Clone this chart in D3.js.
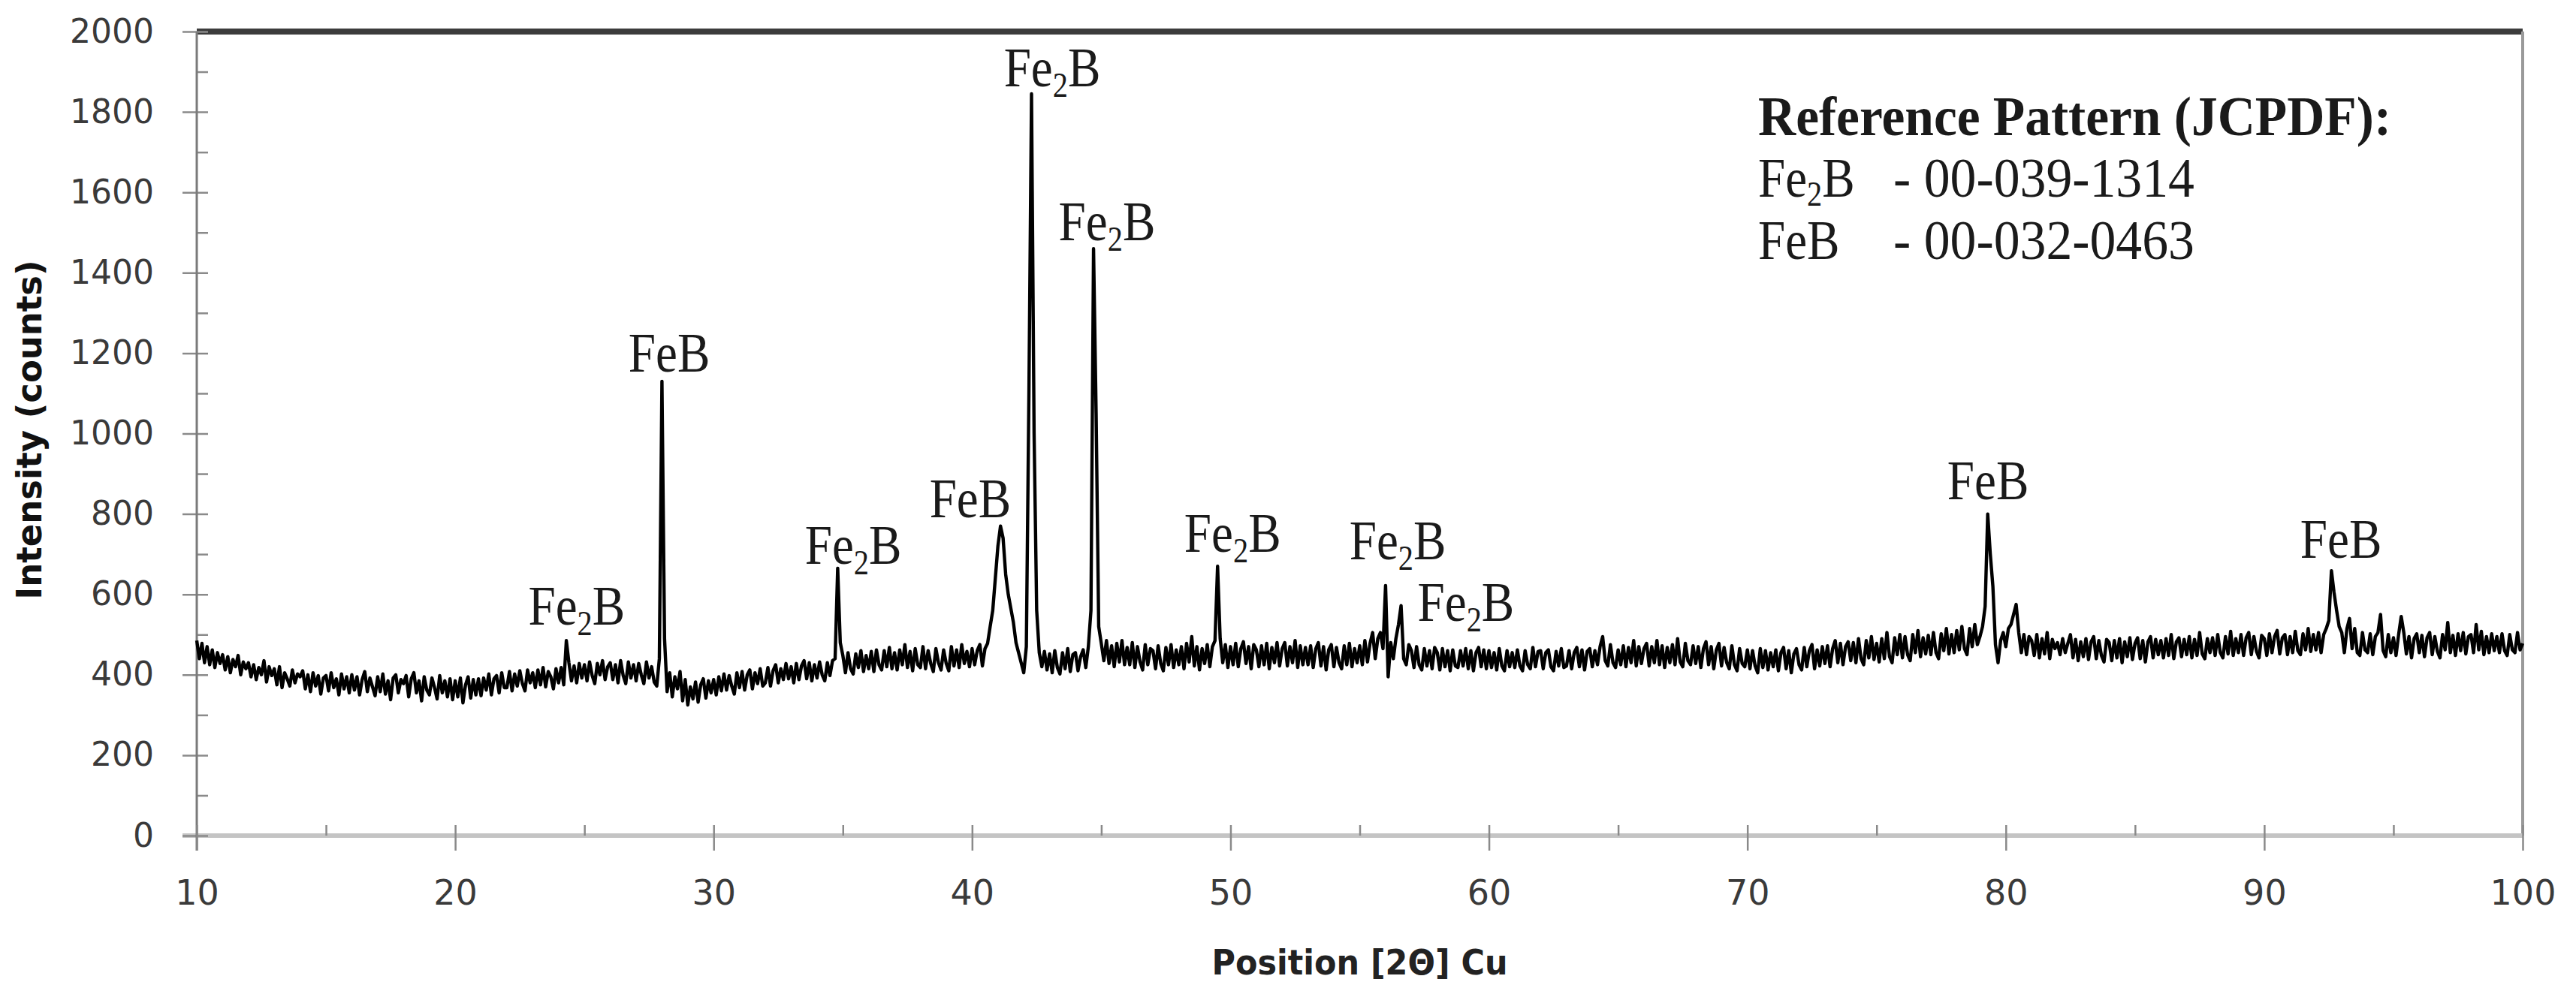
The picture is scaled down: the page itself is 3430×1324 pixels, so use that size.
<!DOCTYPE html>
<html>
<head>
<meta charset="utf-8">
<script src="https://cdn.jsdelivr.net/npm/d3@7"></script>
<style>
  html, body { margin: 0; padding: 0; background: #ffffff; }
  svg { display: block; }
</style>
</head>
<body>
<svg id="chart" width="3430" height="1324"></svg>
<script>
// ---------------- DATA ----------------
// Intensity (counts), one row per degree 2θ, sampled every 0.1° (row r starts at 10 + r degrees)
const intensityRows = [
  [485,440,478,430,470,425,462,418,455,428], // 10
  [450,412,445,405,438,420,448,400,432,415], // 11
  [430,395,425,388,418,400,435,382,420,398], // 12
  [415,375,420,368,405,390,372,412,380,402], // 13
  [395,410,365,400,358,405,372,398,352,392], // 14
  [398,360,405,368,390,350,402,365,395,355], // 15
  [400,362,395,350,388,408,358,392,370,348], // 16
  [395,358,402,352,385,338,392,400,355,388], // 17
  [378,398,345,390,405,355,385,335,395,362], // 18
  [350,392,368,340,398,355,385,345,390,338], // 19
  [385,345,392,330,375,395,342,388,350,390], // 20
  [348,392,362,402,350,390,398,355,405,368], // 21
  [368,408,360,402,372,410,378,360,412,380], // 22
  [405,368,412,375,418,370,408,395,365,415], // 23
  [380,418,375,485,430,385,422,380,428,392], // 24
  [425,385,432,398,378,428,400,435,388,420], // 25
  [430,388,425,380,435,398,378,432,392,425], // 26
  [385,428,400,378,432,392,420,382,372,440], // 27
  [1130,490,358,405,345,395,365,408,335,388], // 28
  [325,370,340,382,332,375,390,342,385,355], // 29
  [388,350,395,360,402,362,398,372,352,405], // 30
  [368,408,362,400,412,365,405,378,415,372], // 31
  [380,418,372,410,425,380,415,388,428,390], // 32
  [420,380,428,388,422,435,390,430,385,425], // 33
  [392,432,400,385,430,398,435,440,665,480], // 34
  [448,405,455,415,402,452,418,460,408,448], // 35
  [415,458,408,462,425,412,460,420,468,415], // 36
  [455,412,462,425,475,418,458,410,465,425], // 37
  [418,470,415,460,428,408,465,430,412,462], // 38
  [428,410,470,422,462,418,475,428,458,420], // 39
  [465,425,460,475,422,465,478,520,560,640], // 40
  [720,770,740,650,600,565,530,480,455,430], // 41
  [405,470,1100,1845,1000,560,455,420,458,412], // 42
  [452,405,460,418,402,455,415,465,408,450], // 43
  [455,410,445,462,418,470,560,1460,1050,520], // 44
  [478,435,485,428,472,420,478,432,485,425], // 45
  [468,425,480,418,470,432,412,475,425,465], // 46
  [460,415,472,428,410,468,425,475,418,462], // 47
  [425,470,415,478,432,495,422,470,412,465], // 48
  [428,475,420,470,485,670,490,430,475,418], // 49
  [470,425,478,420,465,482,428,470,415,475], // 50
  [462,420,472,425,478,415,468,430,480,422], // 51
  [465,480,422,470,430,485,418,472,425,468], // 52
  [425,472,418,465,480,422,470,412,462,475], // 53
  [420,468,430,415,472,425,478,420,465,430], // 54
  [472,425,485,432,478,505,440,490,505,465], // 55
  [622,395,480,440,490,525,572,440,425,475], // 56
  [460,418,470,425,412,465,422,460,415,468], // 57
  [455,412,465,420,460,410,462,422,418,460], // 58
  [422,465,415,460,410,455,468,420,462,415], // 59
  [460,418,455,412,465,422,410,460,420,455], // 60
  [418,462,422,410,460,425,415,468,420,458], // 61
  [460,415,455,462,420,410,458,422,465,418], // 62
  [422,460,415,455,468,420,462,412,458,465], // 63
  [420,460,425,470,495,435,422,475,430,418], // 64
  [462,425,472,420,468,430,485,422,470,428], // 65
  [465,478,422,470,430,485,425,472,418,468], // 66
  [430,475,425,490,432,420,478,435,425,472], // 67
  [428,470,418,465,482,425,470,415,462,478], // 68
  [422,468,430,415,472,425,410,465,428,420], // 69
  [462,415,460,422,405,465,418,460,412,455], // 70
  [420,462,410,455,468,415,460,405,452,465], // 71
  [425,412,468,420,460,475,415,462,422,470], // 72
  [428,472,420,465,485,430,478,425,470,482], // 73
  [435,480,430,490,440,425,485,442,495,438], // 74
  [478,432,490,440,505,445,430,492,450,500], // 75
  [442,495,450,435,500,455,510,445,492,452], // 76
  [498,450,505,455,440,502,460,515,452,500], // 77
  [455,510,462,520,465,450,515,470,525,475], // 78
  [495,520,570,800,700,620,475,430,485,505], // 79
  [470,515,525,550,575,505,455,500,450,495], // 80
  [485,448,500,442,490,452,505,440,488,465], // 81
  [480,450,490,455,478,500,442,488,435,482], // 82
  [445,490,438,482,495,440,485,448,432,488], // 83
  [480,435,485,442,490,430,482,445,492,438], // 84
  [478,492,440,485,432,482,495,442,488,450], // 85
  [485,442,490,448,500,440,482,492,445,488], // 86
  [450,495,442,488,448,505,452,440,490,455], // 87
  [492,448,500,455,442,495,452,508,448,490], // 88
  [455,500,448,492,505,450,495,458,442,498], // 89
  [490,448,502,455,495,510,452,492,500,450], // 90
  [495,455,508,460,450,502,462,515,458,500], // 91
  [462,505,455,500,515,535,659,605,560,520], // 92
  [505,455,515,540,465,515,455,448,505,462], // 93
  [455,502,450,495,505,550,460,445,500,455], // 94
  [492,448,500,545,505,452,495,442,490,502], // 95
  [455,498,445,492,505,450,495,458,442,500], // 96
  [462,530,455,498,448,502,460,505,452,495], // 97
  [500,455,525,462,508,450,495,455,502,460], // 98
  [495,455,502,460,448,500,462,455,505,462], // 99
  [478]                                        // 100
];

const xTickValues = [10,20,30,40,50,60,70,80,90,100];
const xMinorTicks = [15,25,35,45,55,65,75,85,95];
const yTickValues = [0,200,400,600,800,1000,1200,1400,1600,1800,2000];
const yMinorTicks = [100,300,500,700,900,1100,1300,1500,1700,1900];

// Peak annotations: phase, label position (2θ, counts) for the label baseline centre
const peakPhases   = ["Fe2B","FeB","Fe2B","FeB","Fe2B","Fe2B","Fe2B","Fe2B","Fe2B","FeB","FeB"];
const peakLabelX   = [24.7, 28.28, 35.4, 39.93, 43.1, 45.22, 50.08, 56.47, 59.11, 79.31, 92.97];
const peakLabelY   = [525, 1154, 676, 792, 1864, 1481, 706, 687, 534, 837, 691];

const legendTitle = "Reference Pattern  (JCPDF):";
const legendPhases = ["Fe2B", "FeB"];
const legendCodes  = ["- 00-039-1314", "- 00-032-0463"];

const xTitle = "Position [2Θ] Cu";
const yTitle = "Intensity (counts)";

// ---------------- CHART ----------------
const svg = d3.select("#chart");
svg.append("rect").attr("width", 3430).attr("height", 1324).attr("fill", "#ffffff");

const x = d3.scaleLinear().domain([10, 100]).range([262, 3359]);
const y = d3.scaleLinear().domain([0, 2000]).range([1113, 42]);

const points = [];
intensityRows.forEach((row, r) => {
  row.forEach((v, j) => points.push([10 + r + j / 10, v]));
});

// Frame: top and right borders
svg.append("line")
  .attr("x1", x(10)).attr("x2", x(100)).attr("y1", y(2000)).attr("y2", y(2000))
  .attr("stroke", "#3c3c3c").attr("stroke-width", 8);
svg.append("line")
  .attr("x1", x(100)).attr("x2", x(100)).attr("y1", y(2000)).attr("y2", y(0))
  .attr("stroke", "#9a9a9a").attr("stroke-width", 4);

// X axis baseline (light grey band)
svg.append("line")
  .attr("x1", 243).attr("x2", x(100)).attr("y1", y(0)).attr("y2", y(0))
  .attr("stroke", "#c4c4c4").attr("stroke-width", 6);

// Y axis
const yAxis = d3.axisLeft(y).tickValues(yTickValues).tickFormat(d3.format("d"))
  .tickSize(19).tickSizeOuter(0).tickPadding(38);
const gy = svg.append("g").attr("transform", `translate(${x(10)},0)`).call(yAxis);
gy.select(".domain").remove();
gy.selectAll(".tick line").attr("x1", 15).attr("stroke", "#8a8a8a").attr("stroke-width", 2.5);
gy.selectAll(".tick text")
  .attr("font-family", "'DejaVu Sans', Verdana, sans-serif")
  .attr("font-size", 44).attr("fill", "#3a3a3a");

const yMinor = d3.axisRight(y).tickValues(yMinorTicks).tickSize(15).tickFormat("");
const gym = svg.append("g").attr("transform", `translate(${x(10)},0)`).call(yMinor);
gym.select(".domain").remove();
gym.selectAll(".tick line").attr("stroke", "#8a8a8a").attr("stroke-width", 2.5);

svg.append("line")
  .attr("x1", x(10)).attr("x2", x(10)).attr("y1", y(2000)).attr("y2", 1133)
  .attr("stroke", "#7a7a7a").attr("stroke-width", 3);

// X axis
const xAxis = d3.axisBottom(x).tickValues(xTickValues).tickFormat(d3.format("d"))
  .tickSize(20).tickSizeOuter(0).tickPadding(39);
const gx = svg.append("g").attr("transform", `translate(0,${y(0)})`).call(xAxis);
gx.select(".domain").remove();
gx.selectAll(".tick line").attr("y1", -14).attr("stroke", "#8a8a8a").attr("stroke-width", 2.5);
gx.selectAll(".tick text")
  .attr("font-family", "'DejaVu Sans', Verdana, sans-serif")
  .attr("font-size", 46).attr("fill", "#3a3a3a");

const xMinor = d3.axisTop(x).tickValues(xMinorTicks).tickSize(14).tickFormat("");
const gxm = svg.append("g").attr("transform", `translate(0,${y(0)})`).call(xMinor);
gxm.select(".domain").remove();
gxm.selectAll(".tick line").attr("stroke", "#8a8a8a").attr("stroke-width", 2.5);

// Data line
const line = d3.line().x(d => x(d[0])).y(d => y(d[1]));
svg.append("path")
  .datum(points)
  .attr("d", line)
  .attr("fill", "none")
  .attr("stroke", "#000000")
  .attr("stroke-width", 4.4)
  .attr("stroke-linejoin", "round");

// Axis titles
svg.append("text")
  .attr("transform", `translate(55,${(y(0) + y(2000)) / 2 - 5}) rotate(-90)`)
  .attr("text-anchor", "middle")
  .attr("font-family", "'DejaVu Sans', Verdana, sans-serif")
  .attr("font-weight", "bold").attr("font-size", 46)
  .attr("textLength", 452).attr("lengthAdjust", "spacingAndGlyphs")
  .attr("fill", "#111")
  .text(yTitle);

svg.append("text")
  .attr("x", (x(10) + x(100)) / 2).attr("y", 1298)
  .attr("text-anchor", "middle")
  .attr("font-family", "'DejaVu Sans', Verdana, sans-serif")
  .attr("font-weight", "bold").attr("font-size", 46)
  .attr("textLength", 394).attr("lengthAdjust", "spacingAndGlyphs")
  .attr("fill", "#222")
  .text(xTitle);

// Chemical formula writer (subscript digits)
function writeFormula(textSel, formula, subShift) {
  const parts = formula.match(/[A-Za-z]+|\d+/g);
  let shifted = false;
  parts.forEach(p => {
    const t = textSel.append("tspan").text(p);
    if (/\d/.test(p)) {
      t.attr("font-size", "0.62em").attr("dy", subShift);
      shifted = true;
    } else if (shifted) {
      t.attr("dy", -subShift);
      shifted = false;
    }
  });
}

const serif = "'Liberation Serif', 'Times New Roman', serif";

// Peak labels
peakPhases.forEach((ph, i) => {
  const t = svg.append("text")
    .attr("transform", `translate(${x(peakLabelX[i])},${y(peakLabelY[i])}) scale(0.88,1)`)
    .attr("text-anchor", "middle")
    .attr("font-family", serif)
    .attr("font-size", 74)
    .attr("fill", "#1a1a1a");
  writeFormula(t, ph, 14);
});

// Legend
const legX = 2341;
svg.append("text")
  .attr("x", legX).attr("y", 180)
  .attr("font-family", serif).attr("font-weight", "bold").attr("font-size", 74)
  .attr("textLength", 843).attr("lengthAdjust", "spacingAndGlyphs")
  .attr("fill", "#1a1a1a")
  .text(legendTitle);

const legBase = [262, 345];
legendPhases.forEach((ph, i) => {
  const t = svg.append("text")
    .attr("transform", `translate(${legX},${legBase[i]}) scale(0.88,1)`)
    .attr("font-family", serif).attr("font-size", 74)
    .attr("fill", "#1a1a1a");
  writeFormula(t, ph, 12);
  svg.append("text")
    .attr("x", 2521).attr("y", legBase[i])
    .attr("font-family", serif).attr("font-size", 74)
    .attr("textLength", 401).attr("lengthAdjust", "spacingAndGlyphs")
    .attr("fill", "#1a1a1a")
    .text(legendCodes[i]);
});
</script>
</body>
</html>
